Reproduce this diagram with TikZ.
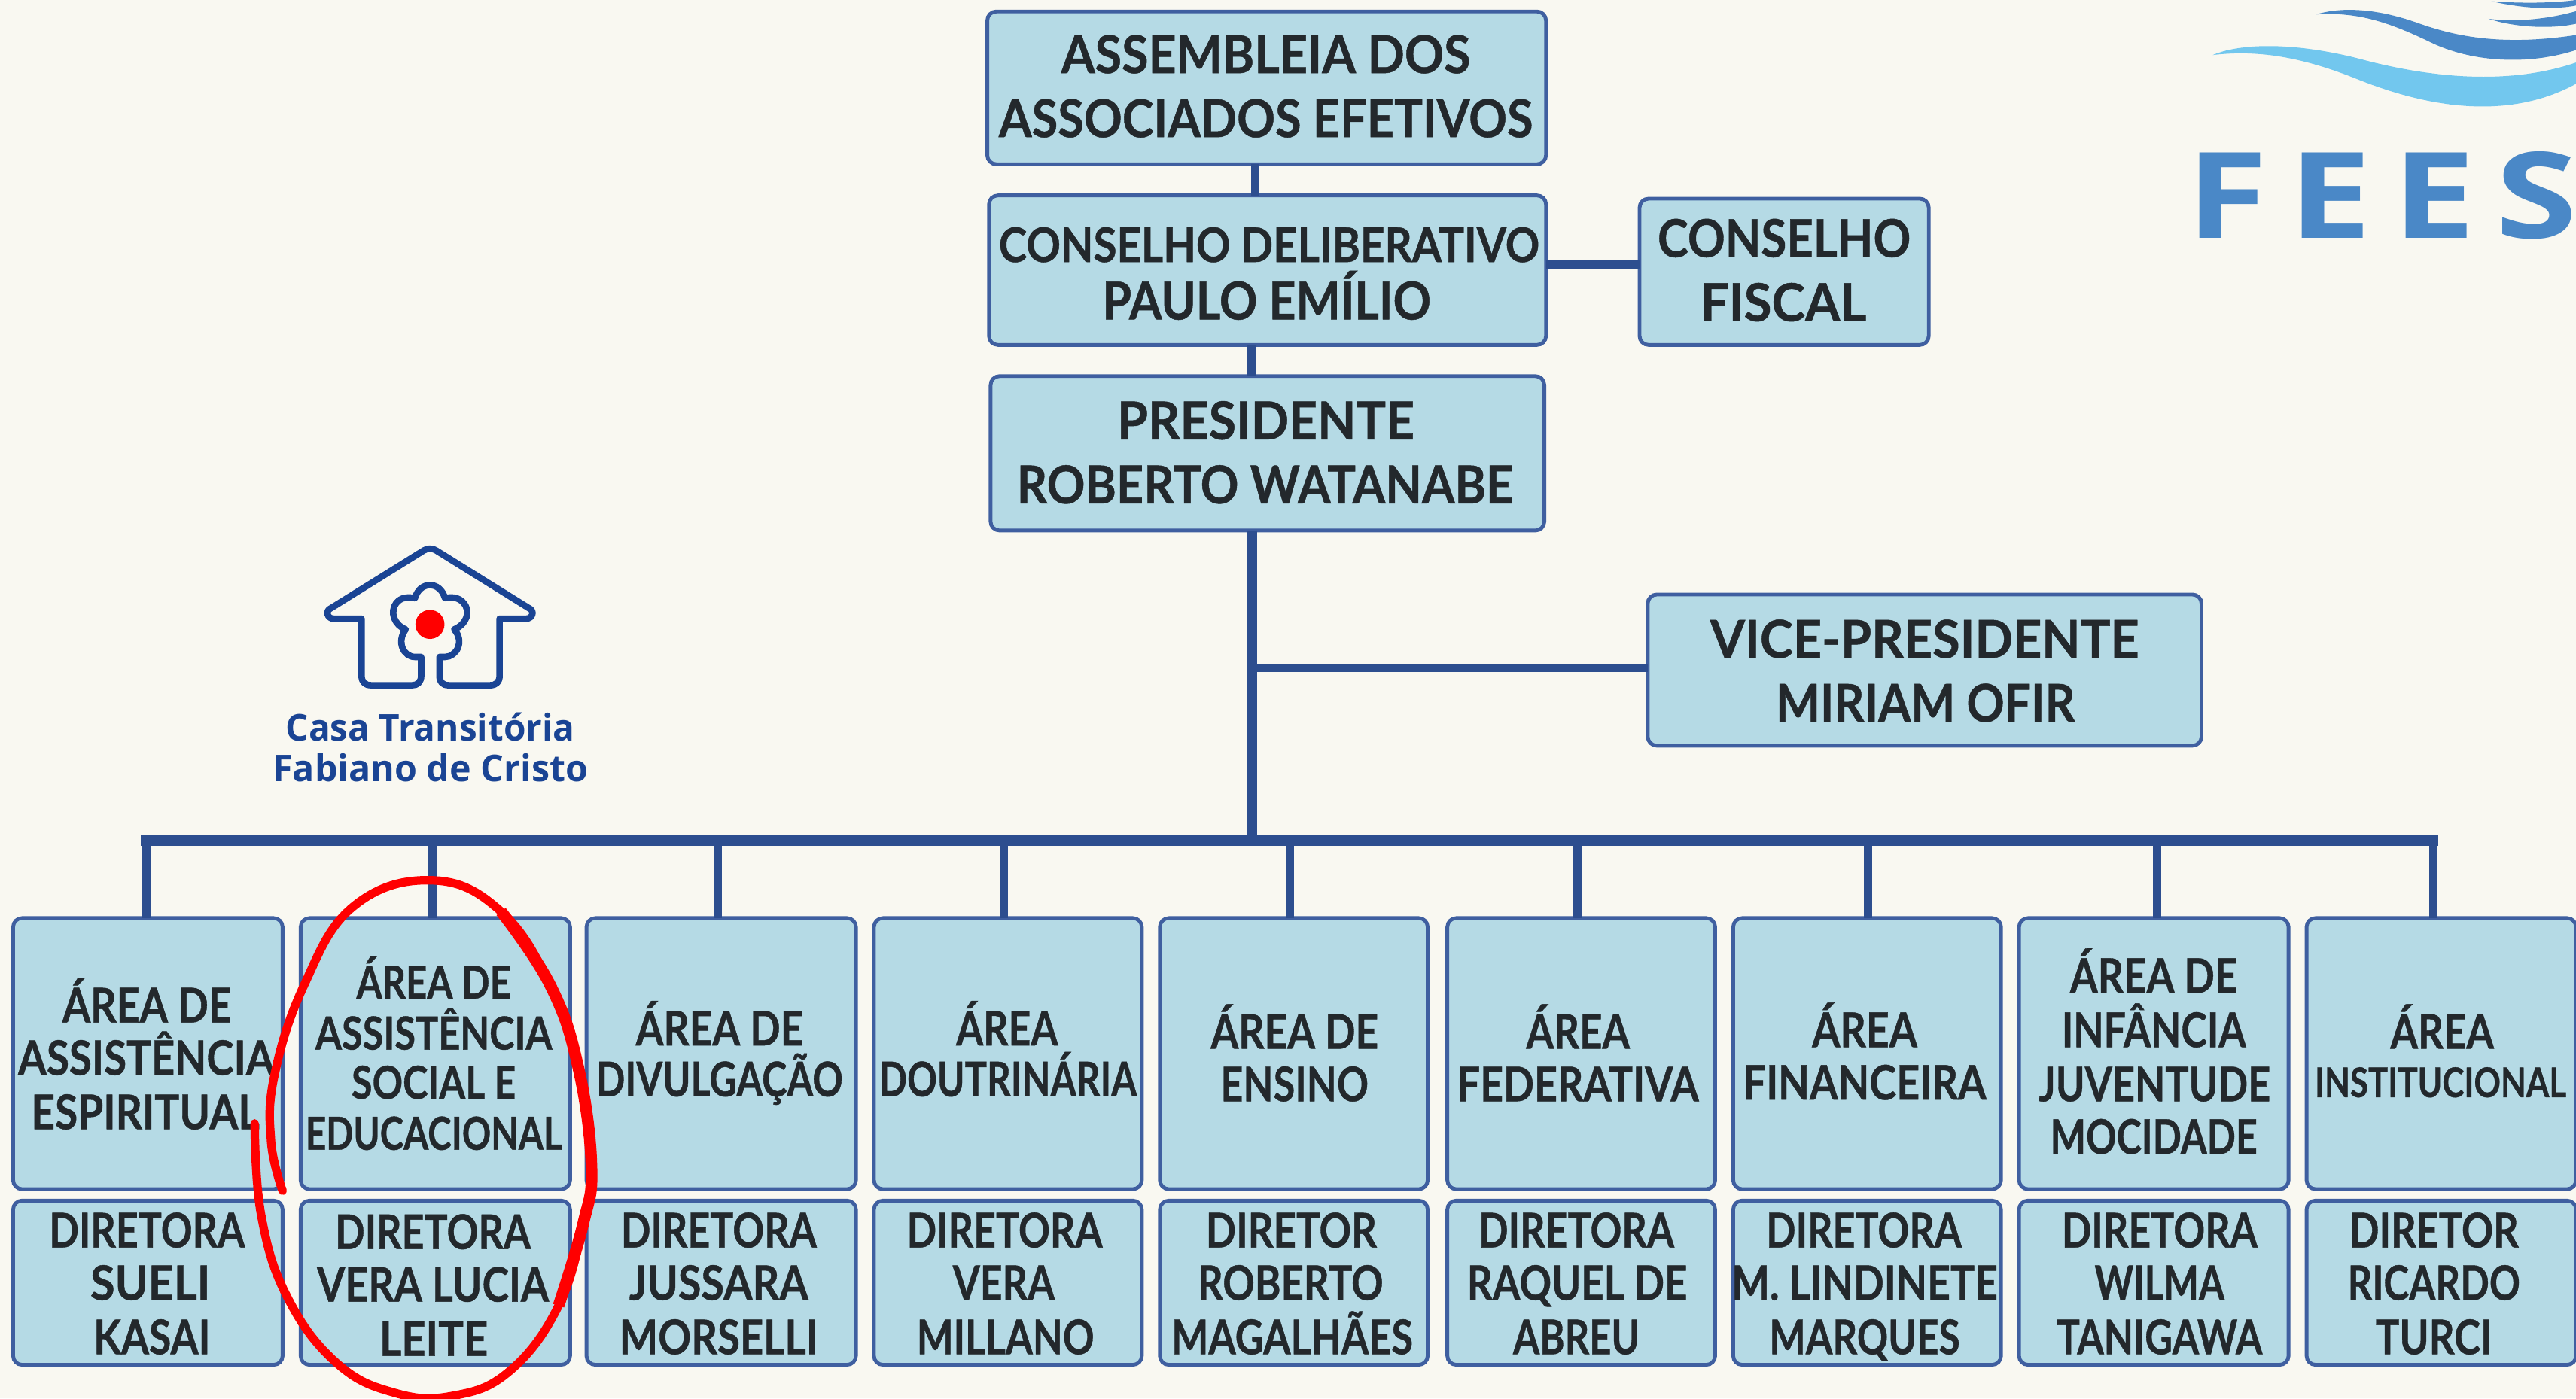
\documentclass[tikz,border=0pt]{standalone}
\usepackage{graphicx}
\usepackage{fontspec}
\setmainfont[BoldFeatures={FakeBold=0.7}]{Lato}
\newfontfamily\casafont{Open Sans}
\newfontfamily\feesfont[LetterSpace=14]{Open Sans}
\definecolor{bgc}{HTML}{F9F8F1}
\definecolor{boxfill}{HTML}{B5DAE5}
\definecolor{boxline}{HTML}{3F5FA0}
\definecolor{linkc}{HTML}{2D4E8F}
\definecolor{inkc}{HTML}{23282C}
\definecolor{casac}{HTML}{1A4494}
\definecolor{feesc}{HTML}{4A88C7}
\definecolor{wavelight}{HTML}{72C7EE}
\newbox\flbox \newbox\flh
\newcommand\fl[5][21]{%
 \setbox\flbox\hbox{#5}\setbox\flh\hbox{H}%
 \pgfmathsetmacro\flsx{(#3-#2)*0.62097/\the\wd\flbox}%
 \pgfmathsetmacro\flsy{#1*0.62097/\the\ht\flh}%
 \pgfmathsetlengthmacro\flx{(#2-\bxc)*0.62097pt}%
 \pgfmathsetlengthmacro\fly{(\byc-#4)*0.62097pt-#1*0.62097pt/2}%
 \makebox[0pt][l]{\hspace*{\flx}\raisebox{\fly}[0pt][0pt]{\scalebox{\flsx}[\flsy]{\box\flbox}}}}
\newcommand\bx[6]{%
 \pgfmathsetmacro\bxc{(#2+#4)/2}\pgfmathsetmacro\byc{(#3+#5)/2}%
 \node[orgbox,minimum width={(#4-#2)*0.62097pt},minimum height={(#5-#3)*0.62097pt}] (#1) at (\bxc,\byc) {#6};}
\newcommand\tx[4]{%
 \def\bxc{#2}\def\byc{#3}%
 \node[plainlabel] (#1) at (#2,#3) {#4};}
\tikzset{
 orgbox/.style={draw=boxline,fill=boxfill,line width=1.4pt,rounded corners=3.4pt,inner sep=0pt,outer sep=0pt,text=inkc,font=\bfseries},
 plainlabel/.style={inner sep=0pt,outer sep=0pt},
 link/.style={draw=linkc,line width=3.2pt},
 houseline/.style={draw=casac,line width=2.45pt,line join=round},
 ringline/.style={red,line cap=round,line join=round},
 ringthick/.style={red,line cap=butt,line join=round},
}
\begin{document}
\begin{tikzpicture}[x=0.021824cm,y=-0.021824cm]
\useasboundingbox (0,0) rectangle (1568,851.4);
\fill[bgc] (0,0) rectangle (1568,851.4);
\clip (0,0) rectangle (1568,851.4);

% waves
\begin{scope}[shift={(1305.9,0)},x=0.00365cm,y=-0.00333cm]
\fill[feesc] (1260,5) .. controls (1340,12) and (1470,15) .. (1568,0) -- (1568,22) .. controls (1470,42) and (1360,30) .. (1260,5) -- cycle;
\fill[feesc] (1250,75) .. controls (1350,90) and (1470,75) .. (1568,45) -- (1568,95) .. controls (1470,118) and (1340,108) .. (1250,75) -- cycle;
\fill[feesc] (620,58) .. controls (720,25) and (850,35) .. (1000,95) .. controls (1130,145) and (1300,185) .. (1568,140) -- (1568,200) .. controls (1400,260) and (1200,250) .. (1050,175) .. controls (900,95) and (780,45) .. (620,58) -- cycle;
\fill[wavelight] (245,220) .. controls (350,170) and (550,170) .. (780,235) .. controls (1000,300) and (1300,350) .. (1568,250) -- (1568,335) .. controls (1350,465) and (1080,450) .. (780,320) .. controls (600,240) and (430,195) .. (245,220) -- cycle;
\end{scope}
\tx{fees}{1452}{119}{{\feesfont\bfseries\color{feesc}\fl[52]{1331}{1569}{119}{FEES}}}

% logo
\begin{scope}[shift={(151.2,311.6)},x=0.003333cm,y=-0.003333cm]
\draw[houseline] (690,580) -- (690,655) .. controls (690,680) and (675,693) .. (655,693) -- (490,693) .. controls (465,693) and (452,680) .. (452,655) -- (452,427) -- (340,427) .. controls (315,427) and (305,395) .. (330,385) -- (700,155) .. controls (715,145) and (735,145) .. (750,155) -- (1120,385) .. controls (1145,395) and (1135,427) .. (1110,427) -- (1003,427) -- (1003,655) .. controls (1003,680) and (990,693) .. (965,693) -- (800,693) .. controls (775,693) and (763,680) .. (763,655) -- (763,580) -- (785,580) .. controls (830,580) and (865,520) .. (822,470) .. controls (870,450) and (890,400) .. (860,365) .. controls (840,340) and (810,340) .. (785,345) .. controls (775,310) and (750,293) .. (725,293) .. controls (700,293) and (675,310) .. (665,345) .. controls (640,340) and (610,340) .. (590,365) .. controls (565,400) and (580,450) .. (628,470) .. controls (590,520) and (620,580) .. (665,580) -- cycle;
\fill[red] (725,450) circle (58);
\end{scope}
\tx{casa}{262}{443}{{\casafont\bfseries\color{casac}\fl[16]{174}{350}{443}{Casa Transitória}}}
\tx{fabiano}{262}{468}{{\casafont\bfseries\color{casac}\fl[16]{166}{358}{468}{Fabiano de Cristo}}}

% top boxes
\bx{asm}{601}{7}{941}{100}{\fl[23]{646}{895}{33}{ASSEMBLEIA DOS}\fl[23]{608}{933}{72}{ASSOCIADOS EFETIVOS}}
\bx{cons}{602}{119}{941}{210}{\fl[21]{608}{937}{149}{CONSELHO DELIBERATIVO}\fl[23]{671}{871}{183}{PAULO EMÍLIO}}
\bx{fiscal}{998}{121}{1174}{210}{\fl[23]{1009}{1163}{145}{CONSELHO}\fl[23]{1035}{1136}{184}{FISCAL}}
\bx{pres}{603}{229}{940}{323}{\fl[23]{680}{861}{256}{PRESIDENTE}\fl[23]{619}{921}{295}{ROBERTO WATANABE}}
\bx{vice}{1003}{362}{1340}{454}{\fl[23]{1041}{1302}{389}{VICE-PRESIDENTE}\fl[23]{1081}{1263}{428}{MIRIAM OFIR}}

% areas
\bx{a1}{8}{559}{172}{724}{\fl{38}{141}{612}{ÁREA DE}\fl{11}{167}{644}{ASSISTÊNCIA}\fl{19}{158}{677}{ESPIRITUAL}}
\bx{a2}{183}{559}{347}{724}{\fl[20]{217}{311}{598}{ÁREA DE}\fl[20]{192}{336}{629}{ASSISTÊNCIA}\fl[20]{214}{314}{659}{SOCIAL E}\fl[20]{186}{342}{690}{EDUCACIONAL}}
\bx{a3}{357}{559}{521}{724}{\fl{387}{489}{626}{ÁREA DE}\fl{363}{513}{657}{DIVULGAÇÃO}}
\bx{a4}{532}{559}{695}{724}{\fl{582}{644}{626}{ÁREA}\fl{535}{692}{657}{DOUTRINÁRIA}}
\bx{a5}{706}{559}{869}{724}{\fl{737}{839}{628}{ÁREA DE}\fl{743}{833}{660}{ENSINO}}
\bx{a6}{881}{559}{1044}{724}{\fl{929}{992}{628}{ÁREA}\fl{887}{1034}{660}{FEDERATIVA}}
\bx{a7}{1055}{559}{1218}{724}{\fl{1103}{1167}{627}{ÁREA}\fl{1061}{1209}{659}{FINANCEIRA}}
\bx{a8}{1229}{559}{1393}{724}{\fl{1260}{1362}{594}{ÁREA DE}\fl{1255}{1367}{627}{INFÂNCIA}\fl{1241}{1382}{660}{JUVENTUDE}\fl{1248}{1374}{692}{MOCIDADE}}
\bx{a9}{1404}{559}{1568}{724}{\fl{1455}{1518}{628}{ÁREA}\fl[18]{1409}{1562}{659}{INSTITUCIONAL}}

% directors
\bx{d1}{8}{731}{172}{831}{\fl{30}{149}{749}{DIRETORA}\fl{55}{128}{781}{SUELI}\fl{57}{128}{814}{KASAI}}
\bx{d2}{183}{731}{347}{831}{\fl{204}{323}{750}{DIRETORA}\fl{193}{334}{782}{VERA LUCIA}\fl{231}{297}{815}{LEITE}}
\bx{d3}{357}{731}{521}{831}{\fl{378}{497}{749}{DIRETORA}\fl{383}{492}{781}{JUSSARA}\fl{377}{498}{814}{MORSELLI}}
\bx{d4}{532}{731}{695}{831}{\fl{552}{671}{749}{DIRETORA}\fl{580}{642}{781}{VERA}\fl{558}{666}{814}{MILLANO}}
\bx{d5}{706}{731}{869}{831}{\fl{734}{838}{749}{DIRETOR}\fl{729}{842}{781}{ROBERTO}\fl{713}{860}{814}{MAGALHÃES}}
\bx{d6}{881}{731}{1044}{831}{\fl{900}{1019}{749}{DIRETORA}\fl{893}{1027}{781}{RAQUEL DE}\fl{921}{998}{814}{ABREU}}
\bx{d7}{1055}{731}{1218}{831}{\fl{1075}{1194}{749}{DIRETORA}\fl{1054}{1216}{781}{M. LINDINETE}\fl{1077}{1193}{814}{MARQUES}}
\bx{d8}{1229}{731}{1393}{831}{\fl{1255}{1374}{749}{DIRETORA}\fl{1275}{1354}{781}{WILMA}\fl{1252}{1377}{814}{TANIGAWA}}
\bx{d9}{1404}{731}{1568}{831}{\fl{1430}{1533}{749}{DIRETOR}\fl{1429}{1534}{781}{RICARDO}\fl{1446}{1517}{814}{TURCI}}

% connectors
\coordinate (topx) at (764,0);
\coordinate (midx) at (762,0);
\coordinate (busy) at (0,512);
\coordinate (b1) at (89,512);
\coordinate (b2) at (263,512);
\coordinate (b3) at (437,512);
\coordinate (b4) at (611,512);
\coordinate (b5) at (785,512);
\coordinate (b6) at (960,512);
\coordinate (b7) at (1137,512);
\coordinate (b8) at (1313,512);
\coordinate (b9) at (1481,512);
\coordinate (fy) at (0,161);
\coordinate (vy) at (0,406.5);
\draw[link] (asm.south -| topx) -- (cons.north -| topx);
\draw[link] (cons.south -| midx) -- (pres.north -| midx);
\draw[link] (cons.east |- fy) -- (fiscal.west |- fy);
\draw[link,line width=4.2pt] (pres.south -| midx) -- (midx |- busy);
\draw[link] (midx |- vy) -- (vice.west |- vy);
\foreach \i in {1,...,9}{\draw[link] (b\i) -- (b\i |- a\i.north);}
\draw[link,line width=4pt,line cap=rect] (b1) -- (b9);

% red hand-drawn ring
\draw[ringline,line width=3.2pt] plot[smooth,tension=0.7] coordinates {(155,684) (159,740) (175,790) (205,830) (240,848) (275,850) (310,835) (340,795) (355,745) (360,710) (352,650) (335,600) (305,555) (263,536) (215,552) (185,600) (167,655) (165,695) (172,725)};
\draw[ringthick,line width=4.4pt] plot[smooth,tension=0.7] coordinates {(340,795) (355,745) (360,710) (352,650) (335,600) (305,555)};
\end{tikzpicture}
\end{document}
